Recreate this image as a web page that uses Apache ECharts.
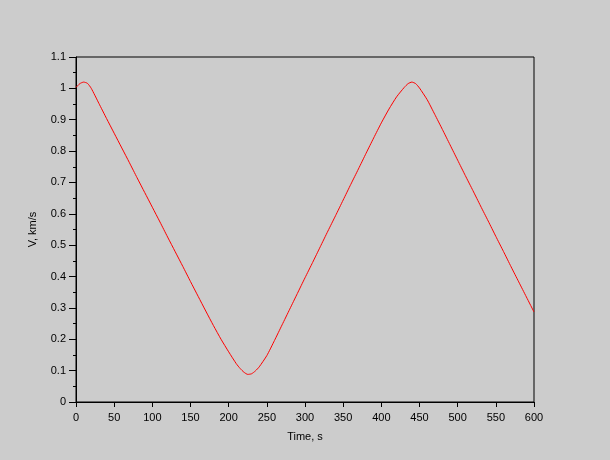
<!DOCTYPE html>
<html>
<head>
<meta charset="utf-8">
<script src="https://cdn.jsdelivr.net/npm/echarts@6/dist/echarts.min.js"></script>
<style>
html,body{margin:0;padding:0;background:#cccccc;}
#c{width:610px;height:460px;}
</style>
</head>
<body>
<div id="c"></div>
<script>
var times = [0,5,10,15,20,30,40,50,60,70,80,90,100,110,120,130,140,150,160,170,180,190,200,210,215,220,225,230,235,240,250,260,270,280,290,300,310,320,330,340,350,360,370,380,390,400,410,420,430,435,440,445,450,460,470,480,490,500,510,520,530,540,550,560,570,580,590,600];
var speeds = [1.003,1.015,1.020,1.016,1.000,0.952,0.904,0.857,0.810,0.763,0.715,0.668,0.621,0.574,0.526,0.479,0.432,0.384,0.337,0.290,0.244,0.200,0.160,0.122,0.107,0.095,0.088,0.090,0.099,0.112,0.148,0.196,0.246,0.296,0.346,0.396,0.445,0.495,0.545,0.594,0.644,0.694,0.743,0.793,0.842,0.890,0.934,0.973,1.003,1.015,1.020,1.015,1.001,0.964,0.917,0.869,0.820,0.771,0.722,0.674,0.625,0.577,0.528,0.480,0.431,0.383,0.335,0.287];
var xName = 'Time, s';
var yName = 'V, km/s';

var data = times.map(function(t,i){return [t, speeds[i]];});
var font = 'Liberation Sans, Arial, sans-serif';
var chart = echarts.init(document.getElementById('c'));
chart.setOption({
  backgroundColor:'#cccccc',
  animation:false,
  grid:{left:76,right:76,top:57,bottom:58,show:true,borderColor:'#000',borderWidth:1,backgroundColor:'transparent'},
  xAxis:{type:'value',min:0,max:600,interval:50,
    name:xName,nameLocation:'middle',nameGap:29,
    nameTextStyle:{color:'#000',fontSize:11,fontFamily:font},
    axisLine:{lineStyle:{color:'#000',width:1}},
    axisTick:{show:true,inside:false,length:5,lineStyle:{color:'#000'}},
    minorTick:{show:false},
    splitLine:{show:false},
    axisLabel:{color:'#000',fontSize:11,fontFamily:font,margin:10}},
  yAxis:{type:'value',min:0,max:1.1,interval:0.1,
    name:yName,nameLocation:'middle',nameGap:38,nameRotate:90,
    nameTextStyle:{color:'#000',fontSize:11,fontFamily:font},
    axisLine:{show:true,lineStyle:{color:'#000',width:1}},
    axisTick:{show:true,inside:false,length:7,lineStyle:{color:'#000'}},
    minorTick:{show:true,splitNumber:2,length:3,lineStyle:{color:'#000'}},
    splitLine:{show:false},
    axisLabel:{color:'#000',fontSize:11,fontFamily:font,margin:10,
      formatter:function(v){return String(Math.round(v*10)/10);}}},
  series:[{type:'line',data:data,showSymbol:false,smooth:0.2,
    lineStyle:{color:'#ff0000',width:1},itemStyle:{color:'#ff0000'}}]
});
</script>
</body>
</html>
